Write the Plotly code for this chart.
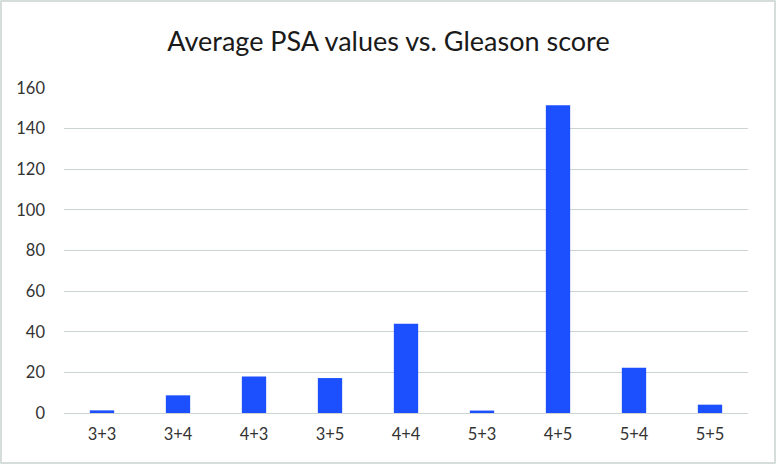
import plotly.graph_objects as go

categories = ["3+3", "3+4", "4+3", "3+5", "4+4", "5+3", "4+5", "5+4", "5+5"]
avg_psa = [1.3, 8.7, 18.0, 17.2, 44.0, 1.2, 151.5, 22.3, 4.1]
y_ticks = [0, 20, 40, 60, 80, 100, 120, 140, 160]

W, H = 777, 466
ml, mr, mt, mb = 64, 29, 88, 53

fig = go.Figure(go.Bar(
    x=categories, y=avg_psa,
    marker=dict(color="#1c50ff", line=dict(width=0)),
    width=0.32,
))

pw = W - ml - mr
ph = H - mt - mb

fig.update_layout(
    width=W, height=H,
    margin=dict(l=ml, r=mr, t=mt, b=mb),
    paper_bgcolor="white", plot_bgcolor="white",
    font=dict(family="Lato, 'Open Sans', sans-serif", color="#404040", size=16),
    title=dict(text="Average PSA values vs. Gleason score", x=0.5, xanchor="center",
               y=1 - 42 / H, yanchor="middle",
               font=dict(size=27, color="#1a1a1a")),
    showlegend=False,
    xaxis=dict(showgrid=False, showline=True, linecolor="#ccd4d1", linewidth=1.3,
               ticks="", ticklabelstandoff=6, tickfont=dict(size=16.5, color="#333333")),
    yaxis=dict(range=[0, 160], tickvals=y_ticks, showgrid=True,
               gridcolor="#ccd4d1", gridwidth=1.3, zeroline=False, showline=False,
               ticks="", ticklabelstandoff=18, tickfont=dict(size=16.5, color="#333333")),
    shapes=[dict(type="rect", xref="paper", yref="paper",
                 x0=(1 - ml) / pw, x1=(W - 2 - ml) / pw,
                 y0=-(mb - 3) / ph,
                 y1=1 + (mt - 1) / ph,
                 line=dict(color="#c8d4d0", width=1.5), fillcolor="rgba(0,0,0,0)",
                 layer="below")],
)

fig.write_html("out.html", config={"displayModeBar": False},
               post_script="document.body.style.margin='0';")
